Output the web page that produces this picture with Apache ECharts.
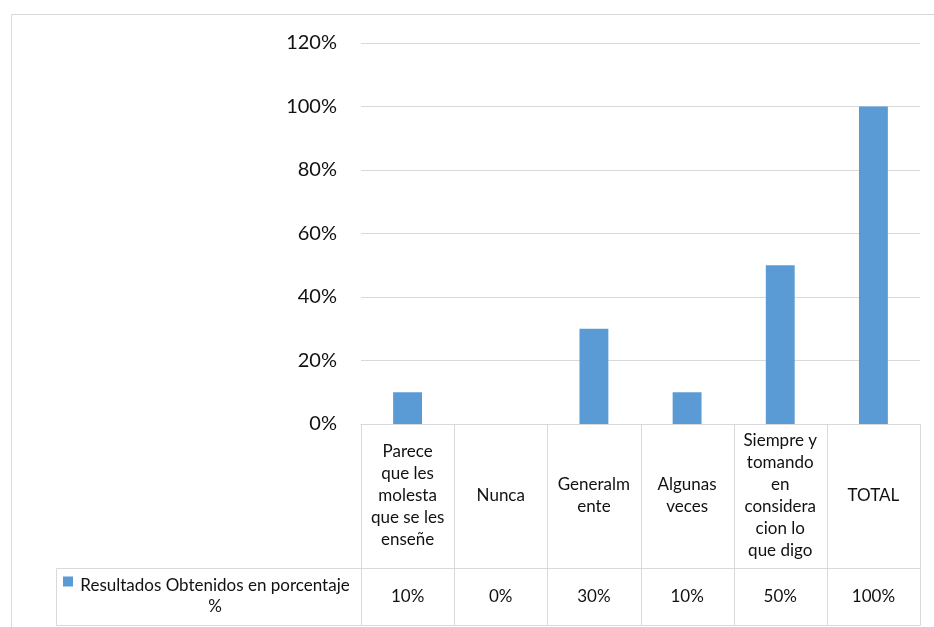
<!DOCTYPE html>
<html>
<head>
<meta charset="utf-8">
<script src="https://cdn.jsdelivr.net/npm/echarts@6/dist/echarts.min.js"></script>
<style>
  html, body { margin: 0; padding: 0; background: #fff; }
  #chart { width: 934px; height: 627px; }
</style>
</head>
<body>
<div id="chart"></div>
<script>
// Category labels, wrapped the way they appear in the data table
const categories = [
  'Parece\nque les\nmolesta\nque se les\nenseñe',
  'Nunca',
  'Generalm\nente',
  'Algunas\nveces',
  'Siempre y\ntomando\nen\nconsidera\ncion lo\nque digo',
  'TOTAL'
];
const values = [0.10, 0.00, 0.30, 0.10, 0.50, 1.00];
const seriesName = 'Resultados Obtenidos en porcentaje\n%';

const FONT = 'Lato, "Open Sans", sans-serif';
const BAR_COLOR = '#5B9BD5';
const LINE_COLOR = '#d9d9d9';
const TEXT_COLOR = '#111';
// share of the table height taken by the category row
const ROW_SPLIT = 0.716;

const pct = v => Math.round(v * 100) + '%';
const snap = x => Math.round(+x.toFixed(3)) + 0.5;

const chart = echarts.init(document.getElementById('chart'));

function tableCell(params, api) {
  const i = params.dataIndex;
  const [cx, top] = api.coord([i, 0]);
  const mid = api.coord([i, ROW_SPLIT])[1];
  const bottom = api.coord([i, 1])[1];
  const w = api.size([1, 0])[0];
  const x0 = snap(cx - w / 2);
  const x1 = snap(cx + w / 2);
  const yt = snap(top), ym = snap(mid), yb = snap(bottom);
  const lineStyle = { stroke: LINE_COLOR, lineWidth: 1, fill: null };
  const children = [
    { type: 'rect', shape: { x: x0, y: yt, width: x1 - x0, height: ym - yt }, style: lineStyle },
    { type: 'rect', shape: { x: x0, y: ym, width: x1 - x0, height: yb - ym }, style: lineStyle },
    { type: 'text', x: cx, y: (top + mid) / 2,
      style: { text: categories[i], align: 'center', verticalAlign: 'middle',
               font: '17px ' + FONT, lineHeight: 22, fill: TEXT_COLOR } },
    { type: 'text', x: cx, y: (mid + bottom) / 2,
      style: { text: pct(values[i]), align: 'center', verticalAlign: 'middle',
               font: '17px ' + FONT, fill: TEXT_COLOR } }
  ];
  if (i === 0) {
    // series key cell to the left of the value row
    const lx = 56.5;
    const centerX = 215;
    const cy = (mid + bottom) / 2;
    children.push(
      { type: 'rect', shape: { x: lx, y: ym, width: x0 - lx, height: yb - ym }, style: lineStyle },
      { type: 'rect', shape: { x: 63, y: ym + 8, width: 10, height: 10 }, style: { fill: BAR_COLOR } },
      { type: 'text', x: centerX, y: cy,
        style: { text: seriesName, align: 'center', verticalAlign: 'middle',
                 font: '17px ' + FONT, lineHeight: 21, fill: TEXT_COLOR } }
    );
  }
  return { type: 'group', children };
}

chart.setOption({
  animation: false,
  graphic: [{
    type: 'rect', silent: true,
    shape: { x: 11.5, y: 14.5, width: 1000, height: 700 },
    style: { fill: null, stroke: LINE_COLOR, lineWidth: 1 }
  }],
  grid: [
    { left: 361, right: 14, top: 43, bottom: 203 },
    { left: 361, right: 14, top: 424, bottom: 2 }
  ],
  xAxis: [
    { type: 'category', gridIndex: 0, data: categories,
      axisLine: { show: true, lineStyle: { color: LINE_COLOR } },
      axisTick: { show: false }, axisLabel: { show: false } },
    { type: 'category', gridIndex: 1, data: categories, show: false }
  ],
  yAxis: [
    { type: 'value', gridIndex: 0, min: 0, max: 1.2, interval: 0.2,
      axisLine: { show: false }, axisTick: { show: false },
      splitLine: { lineStyle: { color: LINE_COLOR, width: 1 } },
      axisLabel: { formatter: pct, fontSize: 20, fontFamily: FONT, color: TEXT_COLOR, margin: 24 } },
    { type: 'value', gridIndex: 1, min: 0, max: 1, inverse: true, show: false }
  ],
  series: [
    { type: 'bar', name: seriesName, xAxisIndex: 0, yAxisIndex: 0,
      data: values, barWidth: '31%', itemStyle: { color: BAR_COLOR } },
    { type: 'custom', xAxisIndex: 1, yAxisIndex: 1, silent: true,
      data: values.map((v, i) => [i, 0]), renderItem: tableCell, clip: false }
  ]
});
</script>
</body>
</html>
